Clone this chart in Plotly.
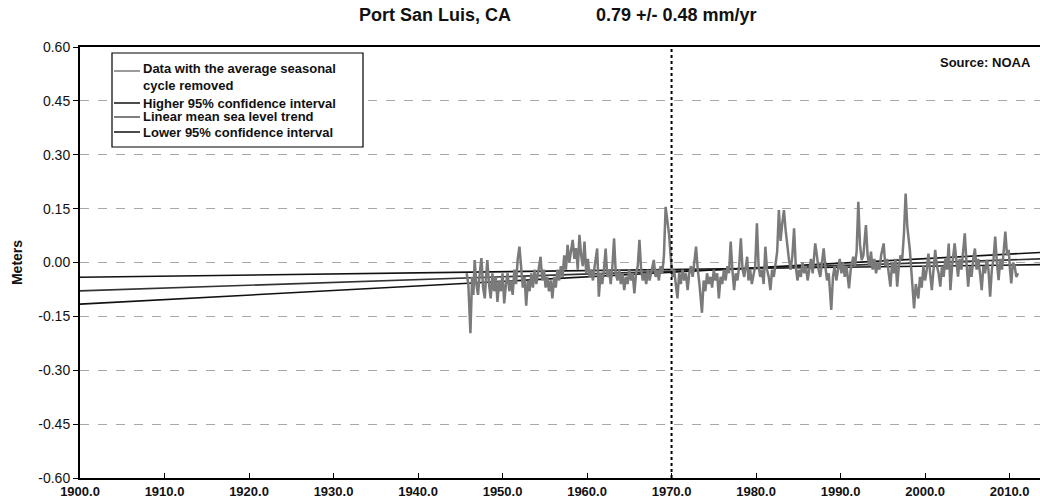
import plotly.graph_objects as go

# ---- data ----
sea_years = [
    1945.75, 1945.95, 1946.2, 1946.4, 1946.55, 1946.7, 1946.9, 1947.1, 1947.3, 1947.5, 1947.7, 1947.9,
    1948.05, 1948.2, 1948.4, 1948.6, 1948.8, 1949.0, 1949.2, 1949.4, 1949.6, 1949.8,
    1950.0, 1950.2, 1950.4, 1950.6, 1950.8, 1951.0, 1951.2, 1951.4, 1951.6, 1951.8,
    1952.0, 1952.2, 1952.4, 1952.6, 1952.8, 1953.0, 1953.2, 1953.4, 1953.6, 1953.8,
    1954.0, 1954.2, 1954.5, 1954.7, 1954.9, 1955.1, 1955.3, 1955.5, 1955.7, 1955.9,
    1956.1, 1956.3, 1956.5, 1956.7, 1956.9, 1957.1, 1957.3, 1957.5, 1957.7, 1957.9,
    1958.1, 1958.3, 1958.5, 1958.7, 1958.9, 1959.1, 1959.3, 1959.5, 1959.7, 1959.9,
    1960.1, 1960.3, 1960.5, 1960.7, 1960.9, 1961.2, 1961.4, 1961.6, 1961.8,
    1962.0, 1962.2, 1962.4, 1962.6, 1962.8, 1963.0, 1963.2, 1963.4, 1963.6, 1963.8,
    1964.0, 1964.2, 1964.4, 1964.6, 1964.8, 1965.0, 1965.2, 1965.4, 1965.6, 1965.8,
    1966.0, 1966.2, 1966.4, 1966.6, 1966.8, 1967.0, 1967.2, 1967.4, 1967.6, 1967.9,
    1968.1, 1968.3, 1968.5, 1968.7, 1968.9, 1969.1, 1969.3, 1969.5, 1969.7, 1969.9,
    1970.1, 1970.3, 1970.5, 1970.7, 1970.9, 1971.1, 1971.3, 1971.5, 1971.7, 1971.9,
    1972.1, 1972.3, 1972.5, 1972.7, 1972.9, 1973.1, 1973.3, 1973.6, 1973.8,
    1974.0, 1974.2, 1974.4, 1974.6, 1974.8, 1975.0, 1975.2, 1975.4, 1975.6, 1975.8,
    1976.0, 1976.2, 1976.4, 1976.6, 1976.8, 1977.0, 1977.2, 1977.4, 1977.6, 1977.8,
    1978.0, 1978.2, 1978.4, 1978.6, 1978.8, 1978.95, 1979.1, 1979.3, 1979.5, 1979.7, 1979.9,
    1980.1, 1980.3, 1980.5, 1980.7, 1980.9, 1981.1, 1981.3, 1981.5, 1981.7, 1981.9,
    1982.1, 1982.3, 1982.5, 1982.7, 1982.9, 1983.1, 1983.3, 1983.5, 1983.7, 1983.9,
    1984.1, 1984.3, 1984.5, 1984.7, 1984.9, 1985.1, 1985.3, 1985.5, 1985.7, 1985.9,
    1986.1, 1986.3, 1986.5, 1986.7, 1987.0, 1987.2, 1987.4, 1987.6, 1987.8,
    1988.0, 1988.2, 1988.4, 1988.6, 1988.9, 1989.1, 1989.3, 1989.5, 1989.7, 1989.9,
    1990.1, 1990.3, 1990.5, 1990.7, 1991.0, 1991.2, 1991.5, 1991.7, 1991.9,
    1992.1, 1992.3, 1992.5, 1992.7, 1993.0, 1993.2, 1993.4, 1993.6, 1993.8,
    1994.0, 1994.2, 1994.4, 1994.6, 1994.8, 1995.1, 1995.3, 1995.5, 1995.7, 1995.9,
    1996.1, 1996.3, 1996.5, 1996.7, 1996.9, 1997.1, 1997.3, 1997.5, 1997.7, 1997.9,
    1998.2, 1998.4, 1998.7, 1998.9, 1999.2, 1999.4, 1999.6, 1999.8,
    2000.0, 2000.2, 2000.4, 2000.6, 2000.8, 2001.0, 2001.2, 2001.4, 2001.6, 2001.8,
    2002.0, 2002.2, 2002.4, 2002.6, 2002.8, 2003.0, 2003.2, 2003.5, 2003.7, 2003.9,
    2004.1, 2004.3, 2004.5, 2004.7, 2004.9, 2005.1, 2005.3, 2005.5, 2005.7, 2005.9,
    2006.1, 2006.3, 2006.5, 2006.7, 2006.9, 2007.1, 2007.3, 2007.5, 2007.7, 2007.9,
    2008.1, 2008.3, 2008.5, 2008.7, 2008.9, 2009.1, 2009.3, 2009.5, 2009.7, 2009.9,
    2010.05, 2010.2, 2010.4, 2010.6, 2010.8, 2011.0,
]
sea_levels = [
    -0.03, -0.06, -0.197, -0.04, -0.09, 0.007, -0.06, -0.09, -0.03, 0.012, -0.07, -0.10,
    -0.04, 0.007, -0.06, -0.10, -0.03, -0.08, -0.04, -0.11, -0.05, -0.08,
    -0.03, -0.114, -0.06, -0.03, -0.08, -0.05, -0.09, -0.02, -0.06, 0.01,
    0.044, -0.02, -0.07, -0.04, -0.12, -0.05, -0.08, -0.03, -0.07, -0.02,
    -0.06, -0.03, 0.016, -0.05, -0.02, -0.07, -0.04, -0.08, -0.05, -0.10,
    -0.04, -0.07, -0.02, -0.05, -0.01, -0.04, 0.02, -0.02, 0.049, 0.00,
    0.03, 0.063, 0.01, 0.04, -0.02, 0.077, 0.02, -0.01, 0.058, -0.03,
    0.01, -0.04, -0.02, -0.05, -0.01, 0.039, -0.095, -0.03, -0.06,
    -0.02, 0.039, -0.04, -0.02, -0.06, -0.01, 0.067, -0.03, -0.05, -0.02,
    -0.06, -0.03, -0.077, -0.04, -0.06, -0.02, -0.05, -0.03, -0.086, -0.03,
    -0.01, 0.063, -0.02, -0.05, -0.03, -0.06, -0.02, -0.05, -0.03, 0.007,
    -0.04, -0.02, -0.05, -0.01, -0.03, 0.02, 0.155, 0.12, 0.08, 0.016,
    -0.04, -0.02, -0.06, -0.10, -0.03, -0.06, -0.02, -0.05, -0.03, -0.077,
    -0.03, -0.01, -0.04, 0.00, 0.044, -0.02, -0.06, -0.14, -0.05,
    -0.08, -0.03, -0.06, -0.04, -0.07, -0.02, -0.05, -0.03, -0.10, -0.04,
    -0.06, -0.02, -0.05, -0.01, -0.03, 0.058, -0.02, -0.077, -0.03, -0.05,
    -0.01, 0.067, -0.02, -0.04, -0.01, 0.016, -0.05, -0.02, -0.06, -0.03, -0.01,
    0.109, -0.01, -0.04, -0.02, -0.06, 0.044, -0.02, -0.04, -0.077, -0.02,
    -0.04, 0.00, 0.03, 0.146, 0.06, 0.109, 0.146, 0.09, 0.04, 0.007,
    -0.02, 0.02, 0.095, -0.01, -0.05, -0.02, -0.04, 0.00, -0.03, -0.01,
    -0.05, -0.02, 0.01, -0.03, 0.053, 0.02, -0.02, -0.04, 0.01,
    0.039, -0.01, -0.05, -0.03, -0.132, -0.04, -0.01, -0.05, -0.02, 0.01,
    -0.03, 0.00, -0.04, -0.01, -0.072, -0.02, 0.016, -0.01, 0.03,
    0.169, 0.05, 0.007, 0.02, 0.104, 0.02, -0.01, 0.03, -0.02,
    0.01, -0.03, 0.00, -0.02, 0.02, 0.053, -0.01, 0.01, -0.03, -0.067,
    0.00, -0.03, 0.01, -0.067, -0.01, 0.02, 0.01, 0.08, 0.192, 0.10,
    0.035, -0.03, -0.128, -0.06, -0.10, -0.04, -0.07, -0.01,
    -0.05, -0.02, 0.025, -0.03, -0.077, -0.02, 0.035, -0.01, -0.03, -0.067,
    -0.01, -0.04, 0.01, -0.02, 0.053, -0.077, -0.01, 0.053, 0.00, -0.039,
    0.01, -0.02, 0.03, 0.081, 0.00, -0.067, -0.01, -0.04, 0.01, 0.039,
    -0.02, 0.01, -0.03, -0.077, -0.01, -0.03, 0.007, -0.02, -0.095, -0.02,
    0.01, 0.072, 0.00, -0.049, 0.01, -0.02, 0.03, 0.086, 0.02, 0.035,
    -0.02, -0.058, 0.00, -0.01, -0.04, -0.03,
]

trend_years = [1900.0, 2013.6]
trend_mean = [-0.079, 0.010]
trend_high = [-0.116, 0.028]   # higher 95% confidence interval (steeper slope)
trend_low = [-0.041, -0.006]   # lower 95% confidence interval

x_ticks = [1900, 1910, 1920, 1930, 1940, 1950, 1960, 1970, 1980, 1990, 2000, 2010]
x_tick_labels = ["1900.0", "1910.0", "1920.0", "1930.0", "1940.0", "1950.0",
                 "1960.0", "1970.0", "1980.0", "1990.0", "2000.0", "2010.0"]
y_ticks = [0.60, 0.45, 0.30, 0.15, 0.00, -0.15, -0.30, -0.45, -0.60]
y_tick_labels = ["0.60", "0.45", "0.30", "0.15", "0.00", "-0.15", "-0.30", "-0.45", "-0.60"]

legend_labels = [
    "Data with the average seasonal<br>cycle removed",
    "Higher 95% confidence interval",
    "Linear mean sea level trend",
    "Lower 95% confidence interval",
]

title_station = "Port San Luis, CA"
title_rate = "0.79 +/- 0.48 mm/yr"
source_text = "Source: NOAA"

FONT = "Liberation Sans, Arial, sans-serif"
DATA_COLOR = "#7a7a7a"

fig = go.Figure()
fig.add_trace(go.Scatter(x=trend_years, y=trend_low, mode="lines",
                         line=dict(color="#111111", width=1.6), showlegend=False))
fig.add_trace(go.Scatter(x=trend_years, y=trend_mean, mode="lines",
                         line=dict(color="#333333", width=1.6), showlegend=False))
fig.add_trace(go.Scatter(x=trend_years, y=trend_high, mode="lines",
                         line=dict(color="#111111", width=1.6), showlegend=False))
fig.add_trace(go.Scatter(x=sea_years, y=sea_levels, mode="lines",
                         line=dict(color=DATA_COLOR, width=2.5), showlegend=False))

# plot area geometry (pixels) for paper-coordinate conversion
L, R, T, B = 80, 1040, 47, 478
W, H = R - L, B - T
def px(x):
    return (x - L) / W
def py(y):
    return (B - y) / H

shapes = []
# 1970 dotted vertical line
shapes.append(dict(type="line", xref="x", yref="paper", x0=1970, x1=1970, y0=0, y1=1,
                   line=dict(color="black", width=2, dash="dot"), layer="above"))
# legend box
shapes.append(dict(type="rect", xref="paper", yref="paper",
                   x0=px(112), x1=px(363), y0=py(147), y1=py(53),
                   fillcolor="white", line=dict(color="black", width=1.2), layer="above"))
legend_colors = [DATA_COLOR, "#111111", "#555555", "#111111"]
legend_line_y = [71, 103, 117, 132]
legend_text_y = [77, 103, 117, 132]
annotations = []
for lab, col, ly, ty in zip(legend_labels, legend_colors, legend_line_y, legend_text_y):
    shapes.append(dict(type="line", xref="paper", yref="paper", x0=px(114), x1=px(140),
                       y0=py(ly), y1=py(ly), line=dict(color=col, width=1.5), layer="above"))
    annotations.append(dict(xref="paper", yref="paper", x=px(141), y=py(ty), text=lab,
                            showarrow=False, xanchor="left", yanchor="middle", align="left",
                            font=dict(family=FONT, size=13, color="#111111", weight="bold")))

annotations.append(dict(xref="paper", yref="paper", x=px(435), y=py(15), text=title_station,
                        showarrow=False, xanchor="center", yanchor="middle",
                        font=dict(family=FONT, size=18, color="#111111", weight="bold")))
annotations.append(dict(xref="paper", yref="paper", x=px(676), y=py(15), text=title_rate,
                        showarrow=False, xanchor="center", yanchor="middle",
                        font=dict(family=FONT, size=18, color="#111111", weight="bold")))
annotations.append(dict(xref="paper", yref="paper", x=px(938), y=py(62), text=source_text,
                        showarrow=False, xanchor="left", yanchor="middle",
                        font=dict(family=FONT, size=13, color="#111111", weight="bold")))

fig.update_layout(
    width=1040, height=504,
    margin=dict(l=L, r=0, t=T, b=504 - B),
    paper_bgcolor="white", plot_bgcolor="white",
    font=dict(family=FONT, color="#111111"),
    shapes=shapes, annotations=annotations,
    showlegend=False,
    xaxis=dict(range=[1900, 2013.6], tickvals=x_ticks, ticktext=x_tick_labels,
               showgrid=False, zeroline=False, showline=True, linecolor="black",
               linewidth=2, mirror=True, ticks="inside", ticklen=5, tickcolor="black",
               tickfont=dict(family=FONT, size=13, weight="bold")),
    yaxis=dict(range=[-0.60, 0.60], tickvals=y_ticks, ticktext=y_tick_labels,
               showgrid=True, gridcolor="#a8a8a8", griddash="dash", gridwidth=1,
               zeroline=False, showline=True, linecolor="black", linewidth=2,
               ticks="outside", ticklen=5, tickcolor="black",
               tickfont=dict(family=FONT, size=14),
               title=dict(text="Meters", standoff=12,
                          font=dict(family=FONT, size=14, weight="bold"))),
)

fig.write_html("out.html")
